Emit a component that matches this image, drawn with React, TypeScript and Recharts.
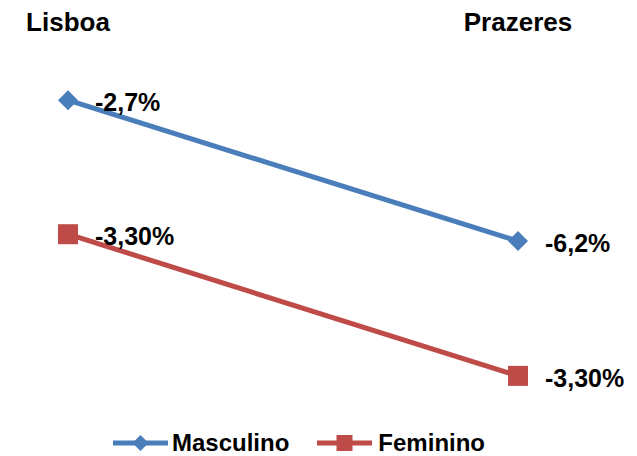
import { LineChart, Line, XAxis, YAxis, Legend, LabelList } from 'recharts';

const categories = ['Lisboa', 'Prazeres'];
const masculino = [-2.7, -6.2];
const feminino = [-6.03, -9.55];
const masculinoLabels = ['-2,7%', '-6,2%'];
const femininoLabels = ['-3,30%', '-3,30%'];

const BLUE = '#4a7ebb';
const RED = '#be4b48';
const FONT = 'Arial, "Liberation Sans", Helvetica, sans-serif';

const data = categories.map((name, i) => ({
  name,
  masc: masculino[i],
  fem: feminino[i],
  mascLabel: masculinoLabels[i],
  femLabel: femininoLabels[i],
}));

// marcadores
const Diamond = ({ cx, cy, r, fill }: any) => (
  <polygon
    points={`${cx},${cy - r} ${cx + r},${cy} ${cx},${cy + r} ${cx - r},${cy}`}
    fill={fill}
  />
);

const Square = ({ cx, cy, r, fill }: any) => (
  <rect x={cx - r} y={cy - r} width={r * 2} height={r * 2} fill={fill} />
);

const CategoryTick = ({ x, payload }: any) => (
  <text
    x={x}
    y={23}
    textAnchor="middle"
    fontFamily={FONT}
    fontWeight="bold"
    fontSize={26}
    fill="#000"
  >
    {payload.value}
  </text>
);

const ValueLabel = ({ x, y, value }: any) => (
  <text
    x={x + 27}
    y={y + 2}
    dominantBaseline="central"
    fontFamily={FONT}
    fontWeight="bold"
    fontSize={25}
    fill="#000"
  >
    {value}
  </text>
);

const LegendContent = () => (
  <div style={{ height: 62, position: 'relative', fontFamily: FONT }}>
    <div
      style={{
        position: 'absolute',
        top: 36,
        left: 45,
        height: 26,
        display: 'flex',
        alignItems: 'center',
        fontWeight: 'bold',
        fontSize: 24,
        color: '#000',
        whiteSpace: 'nowrap',
      }}
    >
      <svg width={55} height={26}>
        <line x1={0} y1={13} x2={55} y2={13} stroke={BLUE} strokeWidth={5} />
        <Diamond cx={27.5} cy={13} r={8} fill={BLUE} />
      </svg>
      <span style={{ marginLeft: 4 }}>Masculino</span>
      <svg width={55} height={26} style={{ marginLeft: 28 }}>
        <line x1={0} y1={13} x2={55} y2={13} stroke={RED} strokeWidth={5} />
        <Square cx={27.5} cy={13} r={8} fill={RED} />
      </svg>
      <span style={{ marginLeft: 6 }}>Feminino</span>
    </div>
  </div>
);

export default function App() {
  return (
    <div style={{ width: 629, height: 448, background: '#fff' }}>
      <LineChart
        width={629}
        height={448}
        data={data}
        margin={{ top: 4, right: 119, bottom: 0, left: 60 }}
      >
        <XAxis
          dataKey="name"
          orientation="top"
          scale="point"
          padding={{ left: 0, right: 0 }}
          height={60}
          axisLine={false}
          tickLine={false}
          tick={<CategoryTick />}
          interval={0}
        />
        <YAxis hide type="number" domain={[-10, -2]} allowDataOverflow />
        <Legend verticalAlign="bottom" content={<LegendContent />} />
        <Line
          dataKey="masc"
          name="Masculino"
          stroke={BLUE}
          strokeWidth={5}
          isAnimationActive={false}
          dot={(p: any) => <Diamond key={`m-${p.index}`} cx={p.cx} cy={p.cy} r={10} fill={BLUE} />}
          activeDot={false}
        >
          <LabelList dataKey="mascLabel" content={<ValueLabel />} />
        </Line>
        <Line
          dataKey="fem"
          name="Feminino"
          stroke={RED}
          strokeWidth={5}
          isAnimationActive={false}
          dot={(p: any) => <Square key={`f-${p.index}`} cx={p.cx} cy={p.cy} r={10} fill={RED} />}
          activeDot={false}
        >
          <LabelList dataKey="femLabel" content={<ValueLabel />} />
        </Line>
      </LineChart>
    </div>
  );
}
